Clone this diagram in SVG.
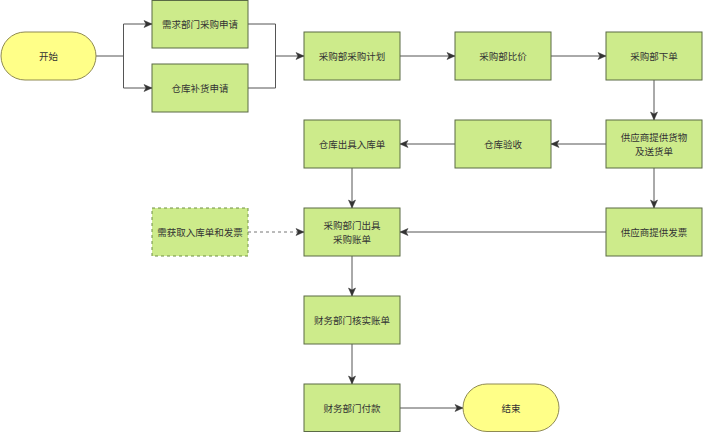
<svg xmlns="http://www.w3.org/2000/svg" width="703" height="432" viewBox="0 0 703 432">
<defs>
<marker id="arr" markerWidth="10" markerHeight="10" refX="9" refY="5" orient="auto" markerUnits="userSpaceOnUse">
<path d="M1,1.5 L9,5 L1,8.5 L3,5 Z" fill="#333" stroke="#333" stroke-width="0.5"/>
</marker>
</defs>
<style>
.box{fill:#cdeb8b;stroke:#5b6b45;stroke-width:1}
.dash{fill:#cdeb8b;stroke:#6e8f45;stroke-width:1;stroke-dasharray:3 3}
.term{fill:#ffff88;stroke:#8f8a52;stroke-width:1}
.t{font-family:"Noto Sans CJK SC","Liberation Sans",sans-serif;font-size:9.5px;fill:#333;text-anchor:middle;dominant-baseline:central}
.e{fill:none;stroke:#555;stroke-width:1;marker-end:url(#arr)}
.ed{fill:none;stroke:#777;stroke-width:1;stroke-dasharray:3 3;marker-end:url(#arr)}
.l{fill:none;stroke:#555;stroke-width:1}
</style>
<g id="connectors">
<path class="l" d="M96,56 H123.5"/>
<path class="e" d="M123.5,56 V24 H152"/>
<path class="e" d="M123.5,56 V88 H152"/>
<path class="l" d="M248,24 H275.5 V56"/>
<path class="l" d="M248,88 H275.5 V56"/>
<path class="e" d="M275.5,56 H304"/>
<path class="e" d="M400,56 H455"/>
<path class="e" d="M551,56 H606"/>
<path class="e" d="M654,80 V120"/>
<path class="e" d="M606,144 H551"/>
<path class="e" d="M455,144 H400"/>
<path class="e" d="M654,168 V208"/>
<path class="e" d="M352,168 V208"/>
<path class="e" d="M606,232 H400"/>
<path class="ed" d="M248,232 H304"/>
<path class="e" d="M352,256 V296"/>
<path class="e" d="M352,344 V384"/>
<path class="e" d="M400,408 H463"/>
</g>
<g id="start"><rect class="term" x="1" y="32" width="95" height="48" rx="24"/><text class="t" x="48.5" y="56">开始</text></g>
<g id="n1"><rect class="box" x="152" y="0.5" width="96" height="47.5"/><text class="t" x="200" y="24">需求部门采购申请</text></g>
<g id="n2"><rect class="box" x="152" y="64" width="96" height="48"/><text class="t" x="200" y="88">仓库补货申请</text></g>
<g id="n3"><rect class="box" x="304" y="32" width="96" height="48"/><text class="t" x="352" y="56">采购部采购计划</text></g>
<g id="n4"><rect class="box" x="455" y="32" width="96" height="48"/><text class="t" x="503" y="56">采购部比价</text></g>
<g id="n5"><rect class="box" x="606" y="32" width="96" height="48"/><text class="t" x="654" y="56">采购部下单</text></g>
<g id="n6"><rect class="box" x="606" y="120" width="96" height="48"/><text class="t" x="654" y="137">供应商提供货物</text><text class="t" x="654" y="151">及送货单</text></g>
<g id="n7"><rect class="box" x="455" y="120" width="96" height="48"/><text class="t" x="503" y="144">仓库验收</text></g>
<g id="n8"><rect class="box" x="304" y="120" width="96" height="48"/><text class="t" x="352" y="144">仓库出具入库单</text></g>
<g id="n9"><rect class="box" x="606" y="208" width="96" height="48"/><text class="t" x="654" y="232">供应商提供发票</text></g>
<g id="n10"><rect class="box" x="304" y="208" width="96" height="48"/><text class="t" x="352" y="225">采购部门出具</text><text class="t" x="352" y="239">采购账单</text></g>
<g id="n11"><rect class="dash" x="152" y="208" width="96" height="48"/><text class="t" x="200" y="232">需获取入库单和发票</text></g>
<g id="n12"><rect class="box" x="304" y="296" width="96" height="48"/><text class="t" x="352" y="320">财务部门核实账单</text></g>
<g id="n13"><rect class="box" x="304" y="384" width="96" height="47.5"/><text class="t" x="352" y="408">财务部门付款</text></g>
<g id="end"><rect class="term" x="463" y="384" width="96" height="47.5" rx="24"/><text class="t" x="511" y="408">结束</text></g>
</svg>
